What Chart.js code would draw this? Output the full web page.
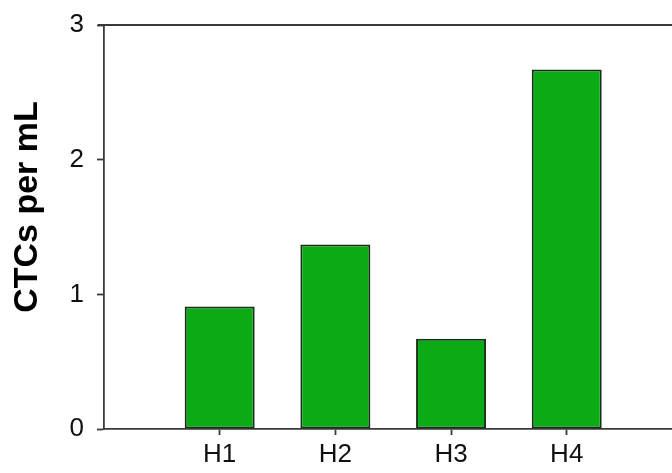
<!DOCTYPE html>
<html>
<head>
<meta charset="utf-8">
<script src="https://cdn.jsdelivr.net/npm/chart.js@4/dist/chart.umd.min.js"></script>
<style>
  html, body { margin: 0; padding: 0; background: #fff; overflow: hidden; }
  #wrap { width: 672px; height: 473px; }
</style>
</head>
<body>
<div id="wrap"><canvas id="myChart"></canvas></div>
<script>
// categories and values
var categories = ["H1", "H2", "H3", "H4"];
var ctcValues = [0.91, 1.37, 0.67, 2.67];
var yTicks = [0, 1, 2, 3];
var yTitle = 'CTCs per mL';

var axisColor = '#3a3a3a';

// top frame line (no right border in the original, it runs off the edge)
// and the y title, which sits a bit above the middle of the axis
var extras = {
  id: 'extras',
  afterDraw(chart) {
    var a = chart.chartArea, ctx = chart.ctx;
    ctx.save();
    ctx.strokeStyle = axisColor;
    ctx.lineWidth = 1.8;
    ctx.beginPath();
    ctx.moveTo(a.left - 6, a.top);
    ctx.lineTo(a.right, a.top);
    ctx.stroke();

    ctx.translate(28, (a.top + a.bottom) / 2 - 20);
    ctx.rotate(-Math.PI / 2);
    ctx.fillStyle = '#000';
    ctx.font = 'bold 34px "Liberation Sans", Arial';
    ctx.textAlign = 'center';
    ctx.textBaseline = 'middle';
    ctx.fillText(yTitle, 0, 0);
    ctx.restore();
  }
};

var config = {
  type: 'bar',
  data: {
    datasets: [{
      data: ctcValues.map((v, i) => ({ x: i + 1, y: v })),
      backgroundColor: '#0aab14',
      borderColor: '#173017',
      borderWidth: 2,
      borderSkipped: false,
      categoryPercentage: 1,
      barPercentage: 0.605
    }]
  },
  options: {
    responsive: true,
    maintainAspectRatio: false,
    animation: false,
    layout: { padding: { top: 25, right: 0, left: 0, bottom: 0 } },
    plugins: { legend: { display: false }, tooltip: { enabled: false } },
    scales: {
      x: {
        type: 'linear',
        offset: false,
        min: 0,
        max: 4.91,
        afterBuildTicks: s => { s.ticks = categories.map((c, i) => ({ value: i + 1 })); },
        afterFit: s => { s.height = 44; s.paddingLeft = 0; s.paddingRight = 0; },
        ticks: {
          color: '#111',
          font: { family: 'Liberation Sans, Arial', size: 26 },
          padding: 4,
          autoSkip: false,
          maxRotation: 0,
          callback: v => categories[v - 1]
        },
        grid: { offset: false, drawOnChartArea: false, tickLength: 6, tickColor: axisColor, tickWidth: 1.8 },
        border: { color: axisColor, width: 1.8 }
      },
      y: {
        min: 0,
        max: 3,
        afterBuildTicks: s => { s.ticks = yTicks.map(v => ({ value: v })); },
        afterFit: s => { s.width = 104; s.paddingTop = 0; s.paddingBottom = 0; },
        ticks: {
          color: '#111',
          font: { family: 'Liberation Sans, Arial', size: 26 },
          padding: 13
        },
        grid: { drawOnChartArea: false, tickLength: 7, tickColor: axisColor, tickWidth: 1.8 },
        border: { color: axisColor, width: 1.8 }
      }
    }
  },
  plugins: [extras]
};

var myChart = new Chart(document.getElementById('myChart'), config);
</script>
</body>
</html>
